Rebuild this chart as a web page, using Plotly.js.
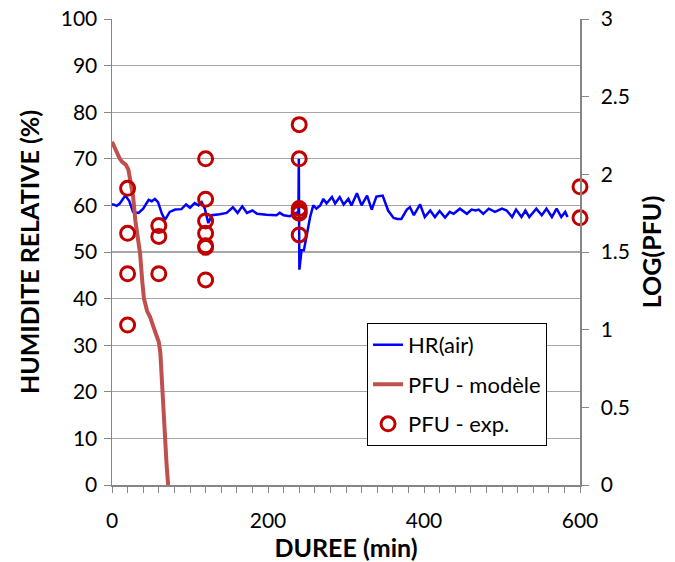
<!DOCTYPE html>
<html>
<head>
<meta charset="utf-8">
<script src="https://cdn.plot.ly/plotly-3.0.1.min.js"></script>
<style>html,body{margin:0;padding:0;background:#fff}#chart{width:675px;height:562px}</style>
</head>
<body>
<div id="chart"></div>
<script>
// HR(air) - humidite relative (%) vs duree (min)
const hrTime = [0,2,6,10,17,22,27,34,40,47,51,55,59,64,68,74,81,89,95,100,106,111,115,119,123.5,128,138,147,155,161,167,173,180,186,198,211,215,220,228,235,239,239.5,240.2,243,246,250,254,258,262,267,271,275,282,286,292,297,303,307,314,320,327,333,339,347,354,361,366,371,378,382,387,395,401,408,414,420,427,433,438,446,455,461,466,470,476,483,491,500,506,513,518,525,530,535,544,551,557,564,570,576,581,584];
const hrValue = [60.2,60.2,59.9,60.4,62.1,61.0,58.6,58.4,59.3,61.2,60.9,61.4,60.7,58.2,56.9,58.6,59.1,59.2,60.2,59.5,60.5,60.0,60.7,59.3,56.2,57.9,58.1,58.4,59.6,58.4,59.8,58.4,58.9,58.2,58.0,57.9,58.4,57.9,57.7,58.2,58.6,70.0,46.2,50.4,50.4,53.9,57.5,60.0,59.3,60.0,61.4,60.4,61.8,60.4,61.8,60.2,61.4,60.0,62.6,60.0,62.1,59.1,61.9,62.1,58.9,57.3,57.1,57.1,59.1,59.6,57.9,60.2,57.5,58.9,57.5,58.8,57.4,58.6,58.2,59.3,58.2,59.1,58.9,59.1,58.2,59.3,58.6,59.3,58.9,57.5,59.1,57.5,58.9,57.5,59.3,57.9,59.3,57.5,59.3,57.5,58.6,57.5];

// PFU - modele : log(PFU)
const modelTime = [0,5,10,13,18,21,24,27,30,33,36,39,41,45,49,53,57,60,62,64,66,68,70,72];
const modelLog = [2.21,2.15,2.10,2.08,2.06,2.03,1.95,1.86,1.70,1.58,1.49,1.30,1.20,1.12,1.08,1.02,0.96,0.92,0.85,0.65,0.42,0.28,0.13,0.0];

// PFU - exp. : log(PFU)
const expTime = [20,20,20,20,60,60,60,120,120,120,120,120,120,120,240,240,240,240,240,240,600,600];
const expLog = [1.91,1.62,1.36,1.03,1.67,1.60,1.36,2.10,1.84,1.70,1.62,1.54,1.53,1.32,2.32,2.10,1.78,1.76,1.75,1.61,1.92,1.72];

// axis ticks
const xTicks = [0,200,400,600];
const yTicks = [0,10,20,30,40,50,60,70,80,90,100];
const y2Ticks = [0,0.5,1,1.5,2,2.5,3];
const y2Labels = ['0','0.5','1','1.5','2','2.5','3'];

const FONT = 'Lato, "Open Sans", sans-serif';
const AX = '#868686';

const traces = [
  {x: hrTime, y: hrValue, type:'scatter', mode:'lines', name:'HR(air)',
   line:{color:'#0000FF', width:2.5}, yaxis:'y', legendgroup:'a'},
  {x: modelTime, y: modelLog, type:'scatter', mode:'lines', name:'PFU - modèle',
   line:{color:'#C0504D', width:4}, yaxis:'y2', legendgroup:'b'},
  {x: expTime, y: expLog, type:'scatter', mode:'markers', name:'PFU - exp.',
   marker:{symbol:'circle-open', size:14, color:'#C00000', line:{width:3, color:'#C00000'}},
   yaxis:'y2', cliponaxis:false, legendgroup:'c'}
];

const layout = {
  width:675, height:562,
  margin:{l:112, r:95, t:19, b:77},
  paper_bgcolor:'#fff', plot_bgcolor:'#fff',
  font:{family:FONT, size:21, color:'#000'},
  showlegend:true,
  legend:{x:0.545, y:0.348, xanchor:'left', yanchor:'top',
    bgcolor:'#fff', bordercolor:'#000', borderwidth:1,
    font:{family:FONT, size:22, color:'#000'},
    traceorder:'grouped', tracegroupgap:8},
  xaxis:{range:[0,600], tickvals:xTicks, ticktext:xTicks.map(String),
    showgrid:false, zeroline:false, showline:true, linecolor:AX, linewidth:1.5,
    ticks:'outside', ticklen:6, tickcolor:AX, ticklabelstandoff:10,
    minor:{dtick:20, ticks:'outside', ticklen:6, tickcolor:AX, showgrid:false},
    title:{text:'<b>DUREE (min)</b>', font:{family:FONT, size:25}, standoff:2}},
  yaxis:{range:[0,100], tickvals:yTicks, ticktext:yTicks.map(String),
    showgrid:true, gridcolor:'#A6A6A6', gridwidth:1.3, zeroline:false,
    showline:true, linecolor:AX, linewidth:1.5,
    ticks:'outside', ticklen:7, tickcolor:AX, ticklabelstandoff:2,
    title:{text:'<b>HUMIDITE RELATIVE (%)</b>', font:{family:FONT, size:25}, standoff:14}},
  yaxis2:{range:[0,3], overlaying:'y', side:'right', tickvals:y2Ticks, ticktext:y2Labels,
    showgrid:false, zeroline:false, showline:true, linecolor:AX, linewidth:1.5,
    ticks:'outside', ticklen:7, tickcolor:AX, ticklabelstandoff:8,
    title:{text:'<b>LOG(PFU)</b>', font:{family:FONT, size:25}, standoff:14}}
};

Plotly.newPlot('chart', traces, layout, {displayModeBar:false, staticPlot:true});
</script>
</body>
</html>
